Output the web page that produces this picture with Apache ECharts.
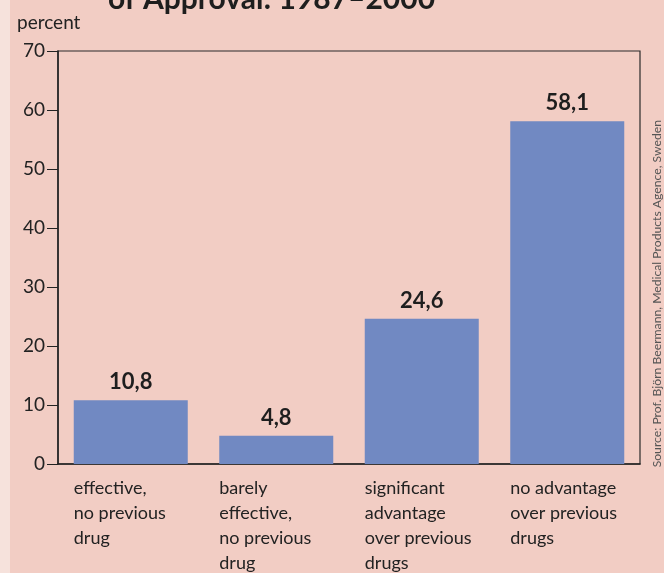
<!DOCTYPE html>
<html>
<head>
<meta charset="utf-8">
<script src="https://cdn.jsdelivr.net/npm/echarts@6/dist/echarts.min.js"></script>
<style>html,body{margin:0;padding:0;background:#f2cdc4}#c{width:664px;height:573px}</style>
</head>
<body>
<div id="c"></div>
<script>
const categories = [
  'effective,\nno previous\ndrug',
  'barely\neffective,\nno previous\ndrug',
  'significant\nadvantage\nover previous\ndrugs',
  'no advantage\nover previous\ndrugs'
];
const values = [10.8, 4.8, 24.6, 58.1];
const yTicks = [0, 10, 20, 30, 40, 50, 60, 70];
const titleText = 'of Approval: 1987–2000';
const unitText = 'percent';
const sourceText = 'Source: Prof. Björn Beermann, Medical Products Agence, Sweden';

const chart = echarts.init(document.getElementById('c'));
const font = 'Lato, "Open Sans", sans-serif';
chart.setOption({
  backgroundColor: '#f2cdc4',
  animation: false,
  title: [
    { text: titleText, left: 103, top: -21, textStyle: { fontFamily: font, fontSize: 30, fontWeight: 'bold', color: '#1e1e1e' } },
    { text: unitText, left: 12, top: 8, textStyle: { fontFamily: font, fontSize: 19, fontWeight: 'normal', color: '#222' } }
  ],
  graphic: [
    { type: 'rect', left: 0, top: 0, shape: { width: 10, height: 573 }, style: { fill: '#f6e2dc' }, z: -10, silent: true },
    { type: 'text', left: 651, top: 120, rotation: Math.PI / 2, style: { text: sourceText, font: '12.2px Lato, "Open Sans", sans-serif', fill: '#555' } }
  ],
  grid: { left: 58, right: 24, top: 51, bottom: 109, show: true, borderColor: '#2a2a2a', borderWidth: 1.2 },
  xAxis: {
    type: 'category',
    data: categories,
    axisLine: { lineStyle: { color: '#222', width: 1.5 } },
    axisTick: { show: false },
    axisLabel: {
      margin: 12,
      interval: 0,
      formatter: v => '{a|' + v + '}',
      rich: { a: { fontFamily: font, fontSize: 18, lineHeight: 25, color: '#222', align: 'left', width: 114 } }
    }
  },
  yAxis: {
    type: 'value', min: 0, max: 70, interval: 10,
    splitLine: { show: false },
    axisLine: { show: true, lineStyle: { color: '#222', width: 1.5 } },
    axisTick: { show: true, length: 11, lineStyle: { color: '#222' } },
    axisLabel: { fontFamily: font, fontSize: 19, color: '#222', margin: 13,
      formatter: v => yTicks.includes(v) ? String(v) : '' }
  },
  series: [{
    type: 'bar',
    data: values,
    barWidth: 114,
    itemStyle: { color: '#7189c2' },
    label: {
      show: true, position: 'top', distance: 7,
      fontFamily: font, fontSize: 22, fontWeight: 'bold', color: '#1e1e1e',
      formatter: p => String(p.value).replace('.', ',')
    }
  }]
});
</script>
</body>
</html>
